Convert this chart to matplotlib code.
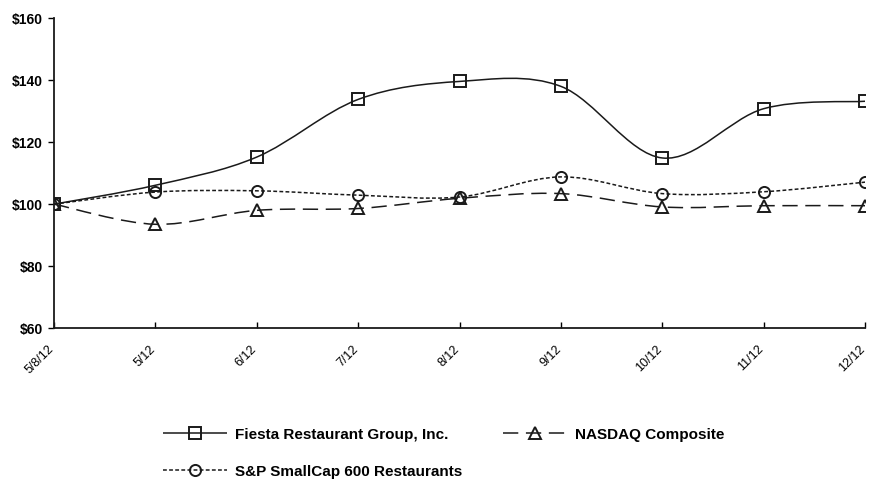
import numpy as np
import matplotlib
matplotlib.use("Agg")
import matplotlib.pyplot as plt
import matplotlib.transforms as mtransforms
from matplotlib.path import Path
from matplotlib.patches import PathPatch
from matplotlib.lines import Line2D

plt.rcParams['font.family'] = ['Liberation Sans', 'DejaVu Sans']

labels = ["5/8/12", "5/12", "6/12", "7/12", "8/12", "9/12", "10/12", "11/12", "12/12"]
fiesta = [100, 106.1, 115.2, 133.8, 139.6, 138.0, 114.9, 130.8, 133.2]
nasdaq = [100, 93.5, 98.0, 98.6, 101.9, 103.4, 99.1, 99.5, 99.5]
sp600 = [100, 103.9, 104.3, 102.9, 102.3, 108.8, 103.4, 104.0, 107.1]

series = [
    ("Fiesta Restaurant Group, Inc.", fiesta, "s", (0, ()), ),
    ("NASDAQ Composite", nasdaq, "^", (0, (10, 5))),
    ("S&P SmallCap 600 Restaurants", sp600, "o", (0, (2.5, 1.5))),
]

fig = plt.figure(figsize=(8.72, 4.79), dpi=100)
ax = fig.add_axes([0.062, 0.315, 0.930, 0.647])

x = np.arange(len(labels))


def smooth_path(xs, ys):
    pts = np.column_stack([xs, ys]).astype(float)
    n = len(pts)
    verts = [pts[0]]
    codes = [Path.MOVETO]
    for i in range(n - 1):
        p0 = pts[i - 1] if i > 0 else pts[i]
        p1 = pts[i]
        p2 = pts[i + 1]
        p3 = pts[i + 2] if i + 2 < n else pts[i + 1]
        c1 = p1 + (p2 - p0) / 6.0
        c2 = p2 - (p3 - p1) / 6.0
        verts += [c1, c2, p2]
        codes += [Path.CURVE4] * 3
    return Path(verts, codes)


ink = "#1a1a1a"
handles = {}
for name, vals, mk, ls in series:
    patch = PathPatch(smooth_path(x, vals), facecolor="none", edgecolor=ink,
                      lw=1.1, linestyle=ls, zorder=2)
    ax.add_patch(patch)
    ax.plot(x, vals, linestyle="none", marker=mk, markersize=8, markerfacecolor="none",
            markeredgecolor=ink, markeredgewidth=1.4, zorder=3)
    handles[name] = Line2D([], [], color=ink, lw=1.1, linestyle=ls, marker=mk,
                           markersize=8, markerfacecolor="none", markeredgecolor=ink,
                           markeredgewidth=1.4)

ax.set_xlim(0, len(labels) - 1)
ax.set_ylim(60, 160)
ax.set_yticks([60, 80, 100, 120, 140, 160])
ax.set_yticklabels(["$60", "$80", "$100", "$120", "$140", "$160"], fontsize=10, fontweight="bold")
ax.set_xticks(x)
ax.set_xticklabels(labels, rotation=45, ha="right", va="top", rotation_mode="anchor", fontsize=9)
ax.tick_params(axis="y", direction="out", length=4, width=1, pad=4)
ax.tick_params(axis="x", direction="in", length=4, width=1, pad=11)
shift = mtransforms.ScaledTranslation(-0.06, 0, fig.dpi_scale_trans)
for lab in ax.get_xticklabels():
    lab.set_transform(lab.get_transform() + shift)
for s in ["top", "right"]:
    ax.spines[s].set_visible(False)
for s in ["left", "bottom"]:
    ax.spines[s].set_linewidth(1.3)
    ax.spines[s].set_color(ink)

order = ["Fiesta Restaurant Group, Inc.", "S&P SmallCap 600 Restaurants", "NASDAQ Composite"]
leg = fig.legend([handles[k] for k in order], order, ncol=2, loc="upper left",
                 bbox_to_anchor=(0.187, 0.107), frameon=False, numpoints=1,
                 borderpad=0, borderaxespad=0,
                 handlelength=4.2, handletextpad=0.5, columnspacing=2.7, labelspacing=1.5,
                 prop={"weight": "bold", "size": 11})

fig.savefig("out.png", dpi=100)
